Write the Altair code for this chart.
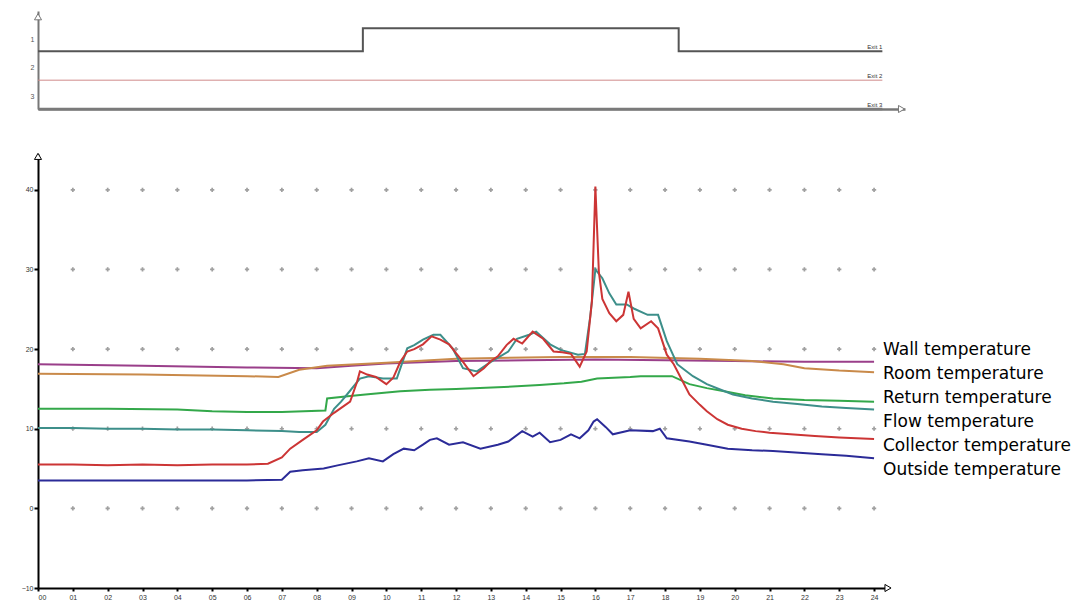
import altair as alt
import pandas as pd

# ---------------- data ----------------
hour_ticks = list(range(0, 25))
temp_ticks = [-10, 0, 10, 20, 30, 40]
grid_hours = list(range(1, 25))
grid_temps = [0, 10, 20, 30, 40]

series_names = ["Wall temperature", "Room temperature", "Return temperature",
                "Flow temperature", "Collector temperature", "Outside temperature"]
series_colors = ["#9a3f8a", "#c98a4a", "#33a84a", "#3d8f8a", "#cc3535", "#2b2b98"]

wall_h = [0, 3, 6, 8, 9, 10, 12, 14, 16, 18, 20, 22, 24]
wall_v = [18.1, 17.9, 17.7, 17.6, 17.9, 18.2, 18.5, 18.6, 18.7, 18.6, 18.5, 18.4, 18.4]

room_h = [0, 3, 6, 6.9, 7.5, 8.3, 10, 12, 15, 17, 19, 20.5, 21.4, 22, 23, 24]
room_v = [16.9, 16.8, 16.6, 16.5, 17.4, 17.9, 18.3, 18.8, 19.0, 19.0, 18.8, 18.5, 18.1, 17.6, 17.3, 17.1]

return_h = [0, 2, 4, 5, 6, 7, 8.25, 8.3, 8.96, 9.4, 10.4, 11.25, 12, 13.2, 14.4, 15.1, 15.6,
            16.05, 17.0, 17.3, 18.2, 18.7, 19.2, 19.7, 20.3, 21.1, 22.0, 23.0, 24.0]
return_v = [12.5, 12.5, 12.4, 12.2, 12.1, 12.1, 12.3, 13.8, 14.1, 14.3, 14.7, 14.9, 15.0, 15.2, 15.5,
            15.7, 15.9, 16.3, 16.5, 16.6, 16.6, 15.6, 15.1, 14.7, 14.2, 13.8, 13.6, 13.5, 13.4]

flow_h = [0, 1, 2, 3, 4, 5, 6, 7, 7.5, 8.0, 8.25, 8.5, 8.7, 8.87, 9.24, 9.5, 9.9, 10.3, 10.6, 10.8,
          11.05, 11.35, 11.55, 11.9, 12.2, 12.6, 13.0, 13.5, 13.75, 14.1, 14.3, 14.7, 15.0, 15.5,
          15.7, 15.85, 16.0, 16.2, 16.4, 16.6, 16.9, 17.1, 17.5, 17.8, 18.05, 18.35, 18.5, 18.8,
          19.2, 19.6, 19.95, 20.5, 21.1, 21.8, 22.5, 23.2, 24.0]
flow_v = [10.1, 10.1, 10.0, 10.0, 9.9, 9.9, 9.8, 9.7, 9.6, 9.6, 10.5, 12.5, 13.4, 14.3, 16.3, 16.6,
          16.3, 16.3, 20.1, 20.5, 21.2, 21.8, 21.8, 20.1, 17.6, 17.2, 18.4, 19.7, 21.3, 21.8, 22.2,
          20.6, 19.9, 19.3, 19.4, 24.0, 30.0, 28.9, 27.0, 25.6, 25.6, 25.1, 24.3, 24.3, 21.0, 18.1,
          17.6, 16.6, 15.6, 14.9, 14.3, 13.8, 13.4, 13.1, 12.8, 12.6, 12.4]

collector_h = [0, 1, 2, 3, 4, 5, 6, 6.6, 7.0, 7.24, 7.6, 8.0, 8.18, 8.5, 8.96, 9.16, 9.24, 9.45,
               9.7, 10.0, 10.2, 10.4, 10.6, 10.8, 11.05, 11.3, 11.55, 11.8, 12.0, 12.2, 12.5, 12.8,
               13.0, 13.2, 13.45, 13.65, 13.9, 14.2, 14.5, 14.8, 15.05, 15.3, 15.55, 15.75, 15.9,
               16.0, 16.1, 16.2, 16.4, 16.6, 16.8, 16.95, 17.1, 17.3, 17.6, 17.8, 18.05, 18.25,
               18.5, 18.7, 19.0, 19.2, 19.5, 19.8, 20.2, 20.6, 21.0, 21.6, 22.3, 23.0, 24.0]
collector_v = [5.5, 5.5, 5.4, 5.5, 5.4, 5.5, 5.5, 5.6, 6.4, 7.5, 8.6, 9.8, 10.9, 12.0, 13.4, 15.9,
               17.2, 16.8, 16.5, 15.6, 16.4, 18.4, 19.7, 20.0, 20.6, 21.6, 21.2, 20.6, 19.5, 18.4,
               16.6, 17.6, 18.5, 19.1, 20.5, 21.3, 20.7, 22.2, 21.3, 19.7, 19.6, 19.4, 17.8, 19.7,
               26.0, 40.4, 29.7, 26.3, 24.5, 23.5, 24.3, 27.2, 23.8, 22.6, 23.5, 22.6, 19.3, 18.1,
               16.0, 14.3, 13.0, 12.2, 11.2, 10.5, 10.0, 9.7, 9.5, 9.3, 9.1, 8.9, 8.7]

outside_h = [0, 2, 4, 6, 7.0, 7.24, 7.6, 8.2, 8.6, 9.15, 9.5, 9.9, 10.2, 10.5, 10.8, 11.05, 11.25,
             11.45, 11.8, 12.2, 12.7, 13.2, 13.5, 13.9, 14.2, 14.4, 14.7, 15.0, 15.3, 15.55, 15.8,
             15.95, 16.05, 16.3, 16.5, 17.0, 17.65, 17.85, 18.05, 18.7, 19.2, 19.8, 20.5, 21.1,
             22.5, 23.2, 24.0]
outside_v = [3.5, 3.5, 3.5, 3.5, 3.6, 4.6, 4.8, 5.0, 5.4, 5.9, 6.3, 5.9, 6.8, 7.5, 7.3, 8.0, 8.6,
             8.8, 8.0, 8.3, 7.5, 8.0, 8.4, 9.7, 9.0, 9.5, 8.3, 8.6, 9.3, 8.8, 9.8, 10.9, 11.2, 10.2,
             9.3, 9.8, 9.7, 10.0, 8.8, 8.4, 8.0, 7.5, 7.3, 7.2, 6.8, 6.6, 6.3]

exit_names = ["Exit 1", "Exit 2", "Exit 3"]
exit_levels = [2, 1, 0]
exit_colors = ["#555555", "#d08a8a", "#7a7a7a"]
exit_axis_labels = ["1", "2", "3"]
exit1_t = [0, 9.33, 18.4, 24.25]
exit1_s = [0, 1, 0, 0]
exit2_t = [0, 24.25]
exit2_s = [0, 0]
exit3_t = [0, 24.25]
exit3_s = [0, 0]

# ---------------- tables ----------------
hs = [wall_h, room_h, return_h, flow_h, collector_h, outside_h]
vs = [wall_v, room_v, return_v, flow_v, collector_v, outside_v]
rows = []
for name, h, v in zip(series_names, hs, vs):
    for i, (a, b) in enumerate(zip(h, v)):
        rows.append({"series": name, "hour": a, "temp": b, "order": i})
temps = pd.DataFrame(rows)

grid = pd.DataFrame([{"hour": h, "temp": t} for h in grid_hours for t in grid_temps])

erows = []
for name, lvl, ts, ss in zip(exit_names, exit_levels, [exit1_t, exit2_t, exit3_t],
                             [exit1_s, exit2_s, exit3_s]):
    for i, (t, s) in enumerate(zip(ts, ss)):
        erows.append({"exit": name, "hour": t, "y": lvl + 0.8 * s, "order": i})
exits = pd.DataFrame(erows)
exit_lbl = exits.sort_values("order").groupby("exit").tail(1)

FONT = "Liberation Sans"
LEGEND_FONT = "DejaVu Sans"
PX_PER_HOUR = 34.83
PX_PER_DEG = 7.97

# ---------------- bottom panel ----------------
x_dom = [0, 24.4]
y_dom = [-10, 44.5]
xs = alt.Scale(domain=x_dom, nice=False, zero=False)
ys = alt.Scale(domain=y_dom, nice=False, zero=False)

x_axis = alt.Axis(values=hour_ticks, title=None, grid=False, domainColor="black", domainWidth=2,
                  tickColor="black", tickSize=3, tickWidth=2, labelFontSize=7, labelFont=FONT,
                  labelColor="#333", labelPadding=2, labelOverlap=False,
                  labelExpr="datum.value < 10 ? '0' + datum.value : '' + datum.value")
y_axis = alt.Axis(values=temp_ticks, title=None, grid=False, domainColor="black", domainWidth=2,
                  tickColor="black", tickSize=4, tickWidth=2, labelFontSize=7, labelFont=FONT,
                  labelColor="#333", labelPadding=1, labelOverlap=False,
                  minExtent=30, maxExtent=30)

gridpts = alt.Chart(grid).mark_point(shape="cross", filled=True, size=18, color="#777").encode(
    x=alt.X("hour:Q", scale=xs, axis=x_axis), y=alt.Y("temp:Q", scale=ys, axis=y_axis))

lines = alt.Chart(temps).mark_line(strokeWidth=2).encode(
    x=alt.X("hour:Q", scale=xs, axis=x_axis),
    y=alt.Y("temp:Q", scale=ys, axis=y_axis),
    order="order:Q",
    color=alt.Color("series:N", sort=series_names,
                    scale=alt.Scale(domain=series_names, range=series_colors),
                    legend=alt.Legend(orient="none", legendX=828, legendY=187, title=None,
                                      symbolOpacity=0, symbolSize=1, symbolStrokeWidth=0,
                                      labelFontSize=17, labelFont=LEGEND_FONT, labelColor="black",
                                      rowPadding=6, labelOffset=0, labelLimit=300)))

arrows_b = pd.DataFrame({"hour": [x_dom[0], x_dom[1]], "temp": [y_dom[1] - 0.3, y_dom[0]],
                         "shape": ["triangle-up", "triangle-right"]})
arr_b = alt.Chart(arrows_b).mark_point(filled=True, fill="white", stroke="black",
                                       strokeWidth=1, size=50, opacity=1).encode(
    x=alt.X("hour:Q", scale=xs, axis=x_axis), y=alt.Y("temp:Q", scale=ys, axis=y_axis),
    shape=alt.Shape("shape:N", scale=None))

bottom = alt.layer(gridpts, lines, arr_b).properties(
    width=round((x_dom[1] - x_dom[0]) * PX_PER_HOUR),
    height=round((y_dom[1] - y_dom[0]) * PX_PER_DEG))

# ---------------- top panel ----------------
tx_dom = [0, 24.9]
ty_dom = [0, 3.4]
txs = alt.Scale(domain=tx_dom, nice=False, zero=False)
tys = alt.Scale(domain=ty_dom, nice=False, zero=False)
label_expr = ("datum.value < 1 ? '%s' : datum.value < 2 ? '%s' : '%s'"
              % (exit_axis_labels[2], exit_axis_labels[1], exit_axis_labels[0]))
tx_axis = alt.Axis(title=None, grid=False, labels=False, ticks=False, domainColor="#777",
                   domainWidth=2.5, minExtent=0, maxExtent=0)
ty_axis = alt.Axis(values=[0.45, 1.45, 2.4], title=None, grid=False, ticks=False,
                   domainColor="#777", domainWidth=2, labelFontSize=7, labelFont=FONT,
                   labelColor="#555", labelPadding=4, labelExpr=label_expr,
                   minExtent=30, maxExtent=30)

layers = []
for name, col in zip(exit_names, exit_colors):
    layers.append(
        alt.Chart(exits).transform_filter(alt.datum.exit == name)
        .mark_line(interpolate="step-after", color=col,
                   strokeWidth=2 if name == exit_names[0] else (1 if name == exit_names[1] else 2.5))
        .encode(x=alt.X("hour:Q", scale=txs, axis=tx_axis),
                y=alt.Y("y:Q", scale=tys, axis=ty_axis), order="order:Q"))

elabels = alt.Chart(exit_lbl).mark_text(align="right", baseline="bottom", dy=-1, fontSize=6,
                                        font=FONT, color="#333").encode(
    x=alt.X("hour:Q", scale=txs, axis=tx_axis), y=alt.Y("y:Q", scale=tys, axis=ty_axis),
    text="exit:N")

arrows_t = pd.DataFrame({"hour": [tx_dom[0], tx_dom[1] - 0.1], "y": [ty_dom[1] - 0.2, ty_dom[0]],
                         "shape": ["triangle-up", "triangle-right"]})
arr_t = alt.Chart(arrows_t).mark_point(filled=True, fill="white", stroke="#777",
                                       strokeWidth=1, size=50, opacity=1).encode(
    x=alt.X("hour:Q", scale=txs, axis=tx_axis), y=alt.Y("y:Q", scale=tys, axis=ty_axis),
    shape=alt.Shape("shape:N", scale=None))

top = alt.layer(*layers, elabels, arr_t).properties(
    width=round((tx_dom[1] - tx_dom[0]) * PX_PER_HOUR), height=98)

chart = alt.vconcat(top, bottom, spacing=36).resolve_scale(color="independent").properties(
    padding={"top": 3, "left": 0, "right": 0, "bottom": 0}, background="white"
).configure_view(strokeWidth=0, stroke="transparent")

chart.save("out.html", embed_options={"renderer": "svg", "actions": False})
